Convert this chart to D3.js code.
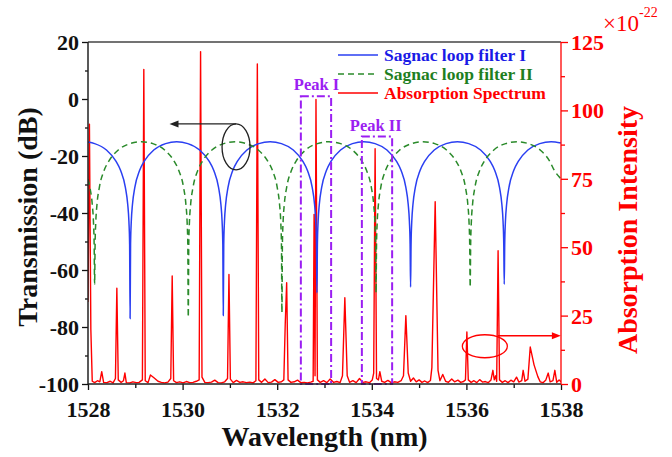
<!DOCTYPE html>
<html><head><meta charset="utf-8">
<script src="https://cdn.jsdelivr.net/npm/d3@7"></script>
<style>
html,body{margin:0;padding:0;background:#fff;}
svg{display:block;font-family:"Liberation Serif","Times New Roman",serif;}
</style></head>
<body><svg id="c" width="672" height="457"></svg>
<script>
// ---------------- DATA ----------------
const wavelengthTicks = [1528, 1530, 1532, 1534, 1536, 1538];
const wavelengthMinorTicks = [1529, 1531, 1533, 1535, 1537];
const transmissionTicks = [20, 0, -20, -40, -60, -80, -100];
const transmissionMinorTicks = [10, -10, -30, -50, -70, -90];
const absorptionTicks = [0, 25, 50, 75, 100, 125];
const absorptionMinorTicks = [12.5, 37.5, 62.5, 87.5, 112.5];
const seriesNames = ["Sagnac loop filter I", "Sagnac loop filter II", "Absorption Spectrum"];

// Sagnac loop filter I : [wavelength nm, transmission dB]
const filterI = [
[1528.00,-15.1],[1528.14,-15.65],[1528.39,-17.9],[1528.59,-21.8],[1528.69,-25.1],[1528.79,-31],[1528.84,-37],[1528.865,-43],[1528.88,-51],[1528.89,-77],[1528.90,-51],[1528.915,-43],[1528.94,-37],[1528.99,-31],[1529.09,-25.1],[1529.19,-21.8],[1529.39,-17.9],[1529.64,-15.65],[1529.875,-15],
[1530.11,-15.65],[1530.36,-17.9],[1530.56,-21.8],[1530.66,-25.1],[1530.76,-31],[1530.81,-37],[1530.835,-43],[1530.85,-51],[1530.86,-76],[1530.87,-51],[1530.885,-43],[1530.91,-37],[1530.96,-31],[1531.06,-25.1],[1531.16,-21.8],[1531.36,-17.9],[1531.61,-15.65],[1531.85,-15],
[1532.09,-15.65],[1532.34,-17.9],[1532.54,-21.8],[1532.64,-25.1],[1532.74,-31],[1532.79,-37],[1532.815,-43],[1532.83,-51],[1532.84,-68],[1532.85,-51],[1532.865,-43],[1532.89,-37],[1532.94,-31],[1533.04,-25.1],[1533.14,-21.8],[1533.34,-17.9],[1533.59,-15.65],[1533.83,-15],
[1534.07,-15.65],[1534.32,-17.9],[1534.52,-21.8],[1534.62,-25.1],[1534.72,-31],[1534.77,-37],[1534.795,-43],[1534.81,-51],[1534.82,-66],[1534.83,-51],[1534.845,-43],[1534.87,-37],[1534.92,-31],[1535.02,-25.1],[1535.12,-21.8],[1535.32,-17.9],[1535.57,-15.65],[1535.81,-15],
[1536.05,-15.65],[1536.30,-17.9],[1536.50,-21.8],[1536.60,-25.1],[1536.70,-31],[1536.75,-37],[1536.775,-43],[1536.79,-51],[1536.80,-65],[1536.81,-51],[1536.825,-43],[1536.85,-37],[1536.90,-31],[1537.00,-25.1],[1537.10,-21.8],[1537.30,-17.9],[1537.55,-15.65],[1537.79,-15],[1538.00,-15.4]
];

// Sagnac loop filter II : [wavelength nm, transmission dB]
const filterII = [
[1528.00,-28.1],[1528.04,-31],[1528.09,-37],[1528.115,-43],[1528.13,-51],[1528.14,-65],[1528.15,-51],[1528.165,-43],[1528.19,-37],[1528.24,-31],[1528.34,-25.1],[1528.44,-21.8],[1528.64,-17.9],[1528.89,-15.65],[1529.13,-15],
[1529.37,-15.65],[1529.62,-17.9],[1529.82,-21.8],[1529.92,-25.1],[1530.02,-31],[1530.07,-37],[1530.095,-43],[1530.11,-51],[1530.12,-76.5],[1530.13,-51],[1530.145,-43],[1530.17,-37],[1530.22,-31],[1530.32,-25.1],[1530.42,-21.8],[1530.62,-17.9],[1530.87,-15.65],[1531.11,-15],
[1531.35,-15.65],[1531.60,-17.9],[1531.80,-21.8],[1531.90,-25.1],[1532.00,-31],[1532.05,-37],[1532.075,-43],[1532.09,-51],[1532.10,-75],[1532.11,-51],[1532.125,-43],[1532.15,-37],[1532.20,-31],[1532.30,-25.1],[1532.40,-21.8],[1532.60,-17.9],[1532.85,-15.65],[1533.09,-15],
[1533.34,-15.65],[1533.59,-17.9],[1533.79,-21.8],[1533.89,-25.1],[1533.99,-31],[1534.04,-37],[1534.065,-43],[1534.08,-51],[1534.09,-68],[1534.10,-51],[1534.115,-43],[1534.14,-37],[1534.19,-31],[1534.29,-25.1],[1534.39,-21.8],[1534.59,-17.9],[1534.84,-15.65],[1535.08,-15],
[1535.33,-15.65],[1535.58,-17.9],[1535.78,-21.8],[1535.88,-25.1],[1535.98,-31],[1536.03,-37],[1536.055,-43],[1536.07,-51],[1536.08,-66],[1536.09,-51],[1536.105,-43],[1536.13,-37],[1536.18,-31],[1536.28,-25.1],[1536.38,-21.8],[1536.58,-17.9],[1536.83,-15.65],[1537.07,-15],
[1537.31,-15.65],[1537.56,-17.9],[1537.76,-21.8],[1537.86,-25.1],[1538.00,-28]
];

// Absorption spectrum : [wavelength nm, intensity x1e-22]
const absorption = [
[1528.00,30],[1528.03,95],[1528.06,20],[1528.09,1],[1528.14,0.5],[1528.20,1.2],[1528.25,0.8],[1528.29,4.5],[1528.33,0.6],[1528.40,0.5],[1528.47,1.0],[1528.53,0.4],[1528.58,2],[1528.61,35],[1528.64,1.5],[1528.70,0.6],[1528.75,1.2],[1528.78,4],[1528.81,0.5],[1528.88,0.4],[1528.95,0.8],
[1529.02,0.5],[1529.08,0.6],[1529.15,1.5],[1529.18,115],[1529.21,1.2],[1529.27,0.5],[1529.32,3.3],[1529.40,2.2],[1529.48,1.0],[1529.55,0.6],[1529.62,0.4],[1529.69,0.7],[1529.75,2],[1529.78,39.5],[1529.81,1.2],[1529.87,0.5],[1529.94,0.8],
[1530.01,0.4],[1530.08,0.9],[1530.15,0.5],[1530.22,0.6],[1530.29,1.0],[1530.35,1.5],[1530.38,121.5],[1530.41,2.5],[1530.47,0.6],[1530.54,0.5],[1530.61,0.7],[1530.68,1.4],[1530.75,0.5],[1530.82,0.4],[1530.89,0.8],[1530.95,2],[1530.98,40],
[1531.01,1.8],[1531.07,0.5],[1531.14,1.3],[1531.21,0.6],[1531.28,0.8],[1531.35,0.5],[1531.42,0.7],[1531.49,0.4],[1531.55,1.2],[1531.58,117],[1531.61,1.5],[1531.67,0.6],[1531.74,1.8],[1531.81,0.5],[1531.88,0.7],[1531.95,1.6],
[1532.02,0.6],[1532.09,0.8],[1532.14,1.5],[1532.17,22],[1532.20,37],[1532.23,1.5],[1532.29,0.6],[1532.36,0.8],[1532.43,1.4],[1532.50,0.5],[1532.57,0.6],[1532.64,0.4],[1532.71,0.7],[1532.76,1.0],[1532.78,62],[1532.80,3],[1532.82,104],[1532.85,1.5],[1532.91,0.6],[1532.98,1.2],
[1533.05,0.5],[1533.12,1.8],[1533.19,0.6],[1533.26,0.9],[1533.33,0.5],[1533.38,3],[1533.43,31.5],[1533.48,3],[1533.53,0.6],[1533.60,1.2],[1533.67,0.5],[1533.74,2.0],[1533.81,0.6],[1533.88,0.8],[1533.95,0.5],
[1534.01,1.5],[1534.04,4],[1534.07,86],[1534.10,2],[1534.14,1.5],[1534.17,4.5],[1534.21,1.0],[1534.27,0.6],[1534.34,1.3],[1534.41,0.5],[1534.48,0.8],[1534.55,0.6],[1534.62,1.2],[1534.67,3],[1534.72,25],[1534.77,4],[1534.82,1.0],[1534.88,2.2],[1534.94,0.8],
[1535.00,1.5],[1535.06,0.6],[1535.12,1.1],[1535.18,0.5],[1535.24,1.3],[1535.27,6],[1535.34,66.6],[1535.40,5],[1535.44,1.2],[1535.50,3.5],[1535.56,1.0],[1535.62,0.6],[1535.69,1.8],[1535.75,0.8],[1535.82,1.4],[1535.88,0.6],[1535.94,0.9],[1535.98,1.5],
[1536.01,19],[1536.04,1.5],[1536.10,0.6],[1536.16,1.2],[1536.22,0.5],[1536.28,1.6],[1536.34,0.7],[1536.40,0.9],[1536.46,0.5],[1536.52,1.5],[1536.56,5],[1536.59,1.5],[1536.62,3],[1536.64,1.0],[1536.67,48.7],[1536.70,1.5],[1536.76,0.6],[1536.82,1.2],[1536.88,0.5],[1536.94,1.4],
[1537.00,0.8],[1537.06,2.5],[1537.11,0.7],[1537.17,1.2],[1537.20,5],[1537.24,1.0],[1537.30,1.8],[1537.35,13.5],[1537.43,7],[1537.51,2.7],[1537.56,0.8],[1537.62,0.5],[1537.68,1.5],[1537.73,4],[1537.77,0.8],[1537.83,1.2],[1537.87,5],[1537.91,0.6],[1537.96,1.5],[1538.00,0.8]
];

// Highlighted peak windows : [label, start nm, end nm, top dB]
const peakLabels = ["Peak I", "Peak II"];
const peakStart = [1532.50, 1533.79];
const peakEnd = [1533.14, 1534.43];
const peakTop = [1, -13.2];

// ---------------- CHART ----------------
const svg = d3.select("#c");
const L = 88, R = 561, T = 42, B = 384;
const x = d3.scaleLinear().domain([1528, 1538]).range([L, R]);
const yL = d3.scaleLinear().domain([-100, 20]).range([B, T]);
const yR = d3.scaleLinear().domain([0, 125]).range([B, T]);

const BLUE = "#2a3ff2", GREEN = "#2a8a2a", RED = "#ff0000", PURPLE = "#9b1ef2";

svg.append("defs").append("clipPath").attr("id", "clip")
  .append("rect").attr("x", L).attr("y", T).attr("width", R - L).attr("height", B - T);

const plot = svg.append("g").attr("clip-path", "url(#clip)");

// absorption spectrum (right axis)
plot.append("path").datum(absorption)
  .attr("fill", "none").attr("stroke", RED).attr("stroke-width", 1.4)
  .attr("stroke-linejoin", "round")
  .attr("d", d3.line().x(d => x(d[0])).y(d => yR(d[1])));

// filters (left axis)
const lineL = d3.line().x(d => x(d[0])).y(d => yL(d[1])).curve(d3.curveMonotoneX);
plot.append("path").datum(filterI)
  .attr("fill", "none").attr("stroke", BLUE).attr("stroke-width", 1.5).attr("d", lineL);
plot.append("path").datum(filterII)
  .attr("fill", "none").attr("stroke", GREEN).attr("stroke-width", 1.5)
  .attr("stroke-dasharray", "6,4").attr("d", lineL);

// peak boxes
peakLabels.forEach((lab, i) => {
  svg.append("rect")
    .attr("x", x(peakStart[i])).attr("y", yL(peakTop[i]))
    .attr("width", x(peakEnd[i]) - x(peakStart[i]))
    .attr("height", yL(-100) - yL(peakTop[i]))
    .attr("fill", "none").attr("stroke", PURPLE).attr("stroke-width", 2)
    .attr("stroke-dasharray", "8,3,2,3");
});
svg.append("text").attr("x", x(peakStart[0]) - 7).attr("y", yL(peakTop[0]) - 6)
  .attr("font-size", 16.5).attr("font-weight", "bold").attr("fill", PURPLE).text(peakLabels[0]);
svg.append("text").attr("x", x(peakStart[1]) - 12).attr("y", yL(peakTop[1]) - 6)
  .attr("font-size", 16.5).attr("font-weight", "bold").attr("fill", PURPLE).text(peakLabels[1]);

// annotations: black ellipse + arrow (left axis), red ellipse + arrow (right axis)
const ex1 = x(1531.13), ey1 = yL(-16.8);
svg.append("ellipse").attr("cx", ex1).attr("cy", ey1).attr("rx", 14).attr("ry", 23)
  .attr("fill", "none").attr("stroke", "#222").attr("stroke-width", 1.3);
svg.append("line").attr("x1", ex1).attr("y1", ey1 - 23).attr("x2", x(1529.85)).attr("y2", ey1 - 23)
  .attr("stroke", "#222").attr("stroke-width", 1.3);
svg.append("path").attr("fill", "#222")
  .attr("d", `M${x(1529.85) - 6},${ey1 - 23} l9,-3.5 l0,7 z`);

const ex2 = x(1536.39), ey2 = yR(13.8);
svg.append("ellipse").attr("cx", ex2).attr("cy", ey2).attr("rx", 22.5).attr("ry", 11.5)
  .attr("fill", "none").attr("stroke", RED).attr("stroke-width", 1.3);
svg.append("line").attr("x1", ex2 + 13).attr("y1", ey2 - 10.5).attr("x2", x(1537.87)).attr("y2", ey2 - 10.5)
  .attr("stroke", RED).attr("stroke-width", 1.3);
svg.append("path").attr("fill", RED)
  .attr("d", `M${x(1537.87) + 6},${ey2 - 10.5} l-9,-3.5 l0,7 z`);

// ---------------- AXES ----------------
const fmt = d => String(d);
function styleAxis(g, color, fs) {
  g.select(".domain").remove();
  g.selectAll("line").attr("stroke", color).attr("stroke-width", 1.3);
  g.selectAll("text").attr("fill", color).attr("font-size", fs).attr("font-weight", "bold")
    .attr("font-family", "Liberation Serif, Times New Roman, serif");
}
// bottom
const gb = svg.append("g").attr("transform", `translate(0,${B})`)
  .call(d3.axisBottom(x).tickValues(wavelengthTicks).tickSize(6).tickPadding(11).tickFormat(fmt));
styleAxis(gb, "#111", 22);
const gbm = svg.append("g").attr("transform", `translate(0,${B})`)
  .call(d3.axisBottom(x).tickValues(wavelengthMinorTicks).tickSize(4).tickFormat(""));
styleAxis(gbm, "#111", 22);
// left
const gl = svg.append("g").attr("transform", `translate(${L},0)`)
  .call(d3.axisLeft(yL).tickValues(transmissionTicks).tickSize(6).tickPadding(3).tickFormat(fmt));
styleAxis(gl, "#111", 22);
gl.selectAll("text").attr("dy", "0.34em");
const glm = svg.append("g").attr("transform", `translate(${L},0)`)
  .call(d3.axisLeft(yL).tickValues(transmissionMinorTicks).tickSize(3).tickFormat(""));
styleAxis(glm, "#111", 22);
// right
const gr = svg.append("g").attr("transform", `translate(${R},0)`)
  .call(d3.axisRight(yR).tickValues(absorptionTicks).tickSize(7).tickPadding(3).tickFormat(fmt));
styleAxis(gr, RED, 22);
gr.selectAll("text").attr("dy", "0.34em");
const grm = svg.append("g").attr("transform", `translate(${R},0)`)
  .call(d3.axisRight(yR).tickValues(absorptionMinorTicks).tickSize(4).tickFormat(""));
styleAxis(grm, RED, 22);

// frame lines
svg.append("line").attr("x1", L).attr("x2", R).attr("y1", T).attr("y2", T).attr("stroke", "#444").attr("stroke-width", 1.5);
svg.append("line").attr("x1", L).attr("x2", R).attr("y1", B).attr("y2", B).attr("stroke", "#222").attr("stroke-width", 1.5);
svg.append("line").attr("x1", L).attr("x2", L).attr("y1", T).attr("y2", B).attr("stroke", "#222").attr("stroke-width", 1.5);
svg.append("line").attr("x1", R).attr("x2", R).attr("y1", T).attr("y2", B).attr("stroke", RED).attr("stroke-width", 1.3);

// axis titles
svg.append("text").attr("x", (L + R) / 2 - 0).attr("y", 446).attr("text-anchor", "middle")
  .attr("font-size", 28).attr("font-weight", "bold").attr("fill", "#111").text("Wavelength (nm)");
svg.append("text").attr("transform", `translate(37,${(T + B) / 2 + 4}) rotate(-90)`).attr("text-anchor", "middle")
  .attr("font-size", 28).attr("font-weight", "bold").attr("fill", "#111").text("Transmission (dB)");
svg.append("text").attr("transform", `translate(637,${(T + B) / 2 + 17}) rotate(-90)`).attr("text-anchor", "middle")
  .attr("font-size", 28).attr("font-weight", "bold").attr("fill", RED).text("Absorption Intensity");
// exponent
const ex = svg.append("text").attr("x", 603).attr("y", 31).attr("fill", RED).attr("font-size", 23);
ex.append("tspan").text("×10");
ex.append("tspan").attr("font-size", 14).attr("dy", -14).text("-22");

// legend
const legColors = [BLUE, GREEN, RED];
const legDash = [null, "6,4", null];
seriesNames.forEach((n, i) => {
  const yy = 55 + i * 19;
  svg.append("line").attr("x1", 338).attr("x2", 378).attr("y1", yy).attr("y2", yy)
    .attr("stroke", legColors[i]).attr("stroke-width", 1.5).attr("stroke-dasharray", legDash[i]);
  svg.append("text").attr("x", 384).attr("y", yy + 6).attr("font-size", 17.5).attr("font-weight", "bold")
    .attr("fill", i === 0 ? "#1a1ae6" : i === 1 ? "#1f7f1f" : RED).text(n);
});
</script></body></html>
